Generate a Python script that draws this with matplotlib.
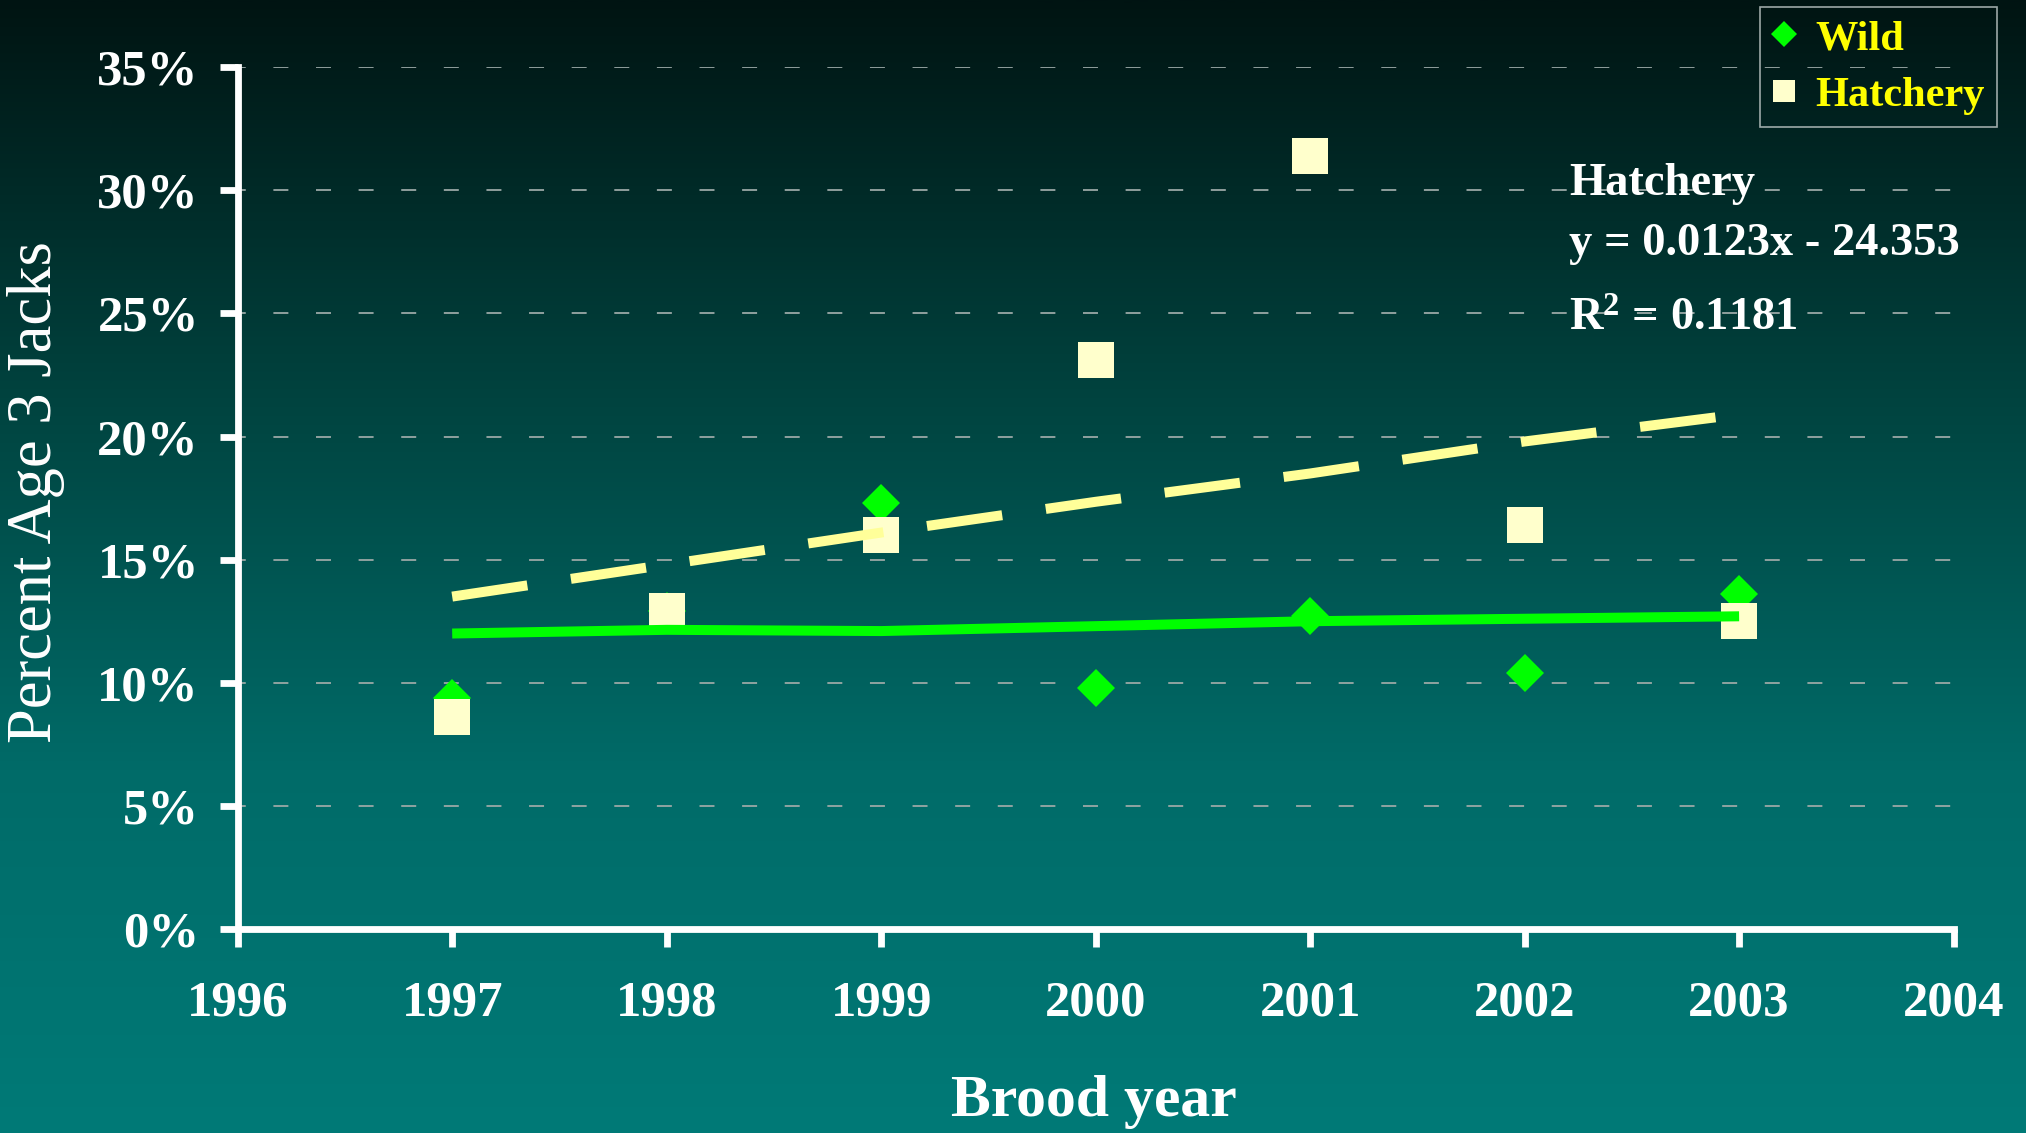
import numpy as np
import matplotlib
matplotlib.use("Agg")
import matplotlib.pyplot as plt
from matplotlib.lines import Line2D
from matplotlib.colors import LinearSegmentedColormap

# ----------------------- Data (percent age-3 jacks) -----------------------
years = [1997, 1998, 1999, 2000, 2001, 2002, 2003]
wild = [9.4, 12.9, 17.3, 9.8, 12.7, 10.4, 13.6]
hatchery = [8.6, 12.9, 16.0, 23.1, 31.4, 16.4, 12.5]

# linear trend values as plotted
wild_trend = [12.0, 12.15, 12.1, 12.3, 12.5, 12.6, 12.7]
hatchery_trend = [13.5, 14.8, 16.1, 17.35, 18.5, 19.8, 20.9]

x_ticks = [1996, 1997, 1998, 1999, 2000, 2001, 2002, 2003, 2004]
y_ticks = [0, 5, 10, 15, 20, 25, 30, 35]

eq_lines = ["Hatchery", "y = 0.0123x - 24.353", r"R$^{2}$ = 0.1181"]

# ----------------------- Style -----------------------
plt.rcParams["font.family"] = ["Liberation Serif", "DejaVu Serif"]
plt.rcParams["mathtext.fontset"] = "custom"
plt.rcParams["mathtext.rm"] = "Liberation Serif:bold"
plt.rcParams["mathtext.it"] = "Liberation Serif:bold"
plt.rcParams["mathtext.bf"] = "Liberation Serif:bold"

W, H = 2026, 1133
fig = plt.figure(figsize=(W / 100, H / 100), dpi=100)

# background gradient, dark at the top to teal at the bottom
bg = fig.add_axes([0, 0, 1, 1], zorder=0)
cmap = LinearSegmentedColormap.from_list(
    "bg", [(0.0, "#001412"), (0.35, "#00433f"), (0.68, "#006b68"), (1.0, "#007a77")])
grad = np.linspace(0, 1, 512).reshape(-1, 1)
bg.imshow(grad, cmap=cmap, aspect="auto", extent=[0, 1, 1, 0])
bg.set_axis_off()

# ----------------------- Main axes -----------------------
ax = fig.add_axes([237.7 / W, 1 - 929 / H, (1953.6 - 237.7) / W, (929 - 67.2) / H], zorder=1)
ax.set_facecolor("none")

ax.plot(years, wild, ls="none", marker="D", ms=19.8, mew=0, color="#00ff00", zorder=3)
ax.plot(years, hatchery, ls="none", marker="s", ms=25.6, mew=0, color="#ffffcc", zorder=4)
ax.plot(years, wild_trend, color="#00ff00", lw=7.2, solid_capstyle="butt", zorder=5)
ax.plot(years, hatchery_trend, color="#ffff99", lw=7.2, ls=(0, (7.6, 4.4)),
        dash_capstyle="butt", zorder=5)

ax.set_xlim(1996, 2004)
ax.set_ylim(0, 35)
ax.set_xticks(x_ticks)
ax.set_yticks(y_ticks)
ax.set_yticklabels([f"{v}%" for v in y_ticks])

ax.grid(axis="y", color="#9aa8a6", lw=1.3, ls=(4, (8.3, 15.3)), zorder=1)
ax.set_axisbelow(True)

for side in ["top", "right"]:
    ax.spines[side].set_visible(False)
for side in ["left", "bottom"]:
    ax.spines[side].set_color("white")
    ax.spines[side].set_linewidth(4.9)

ax.tick_params(axis="both", colors="white", width=4.9, length=13, direction="out")
ax.tick_params(axis="y", pad=15)
ax.tick_params(axis="x", pad=24)
for lab in ax.get_xticklabels() + ax.get_yticklabels():
    lab.set_fontsize(36.5)
    lab.set_fontweight("bold")
    lab.set_color("white")

# axis titles
fig.text(36 / W, 1 - 492 / H, "Percent Age 3 Jacks", rotation=90, ha="center", va="center",
         fontsize=45, color="white")
fig.text(1094 / W, 1 - 1116 / H, "Brood year", ha="center", va="baseline",
         fontsize=43, fontweight="bold", color="white")

# regression annotation
for txt, base in zip(eq_lines, [195, 255, 331]):
    fig.text(1569 / W, 1 - base / H, txt, ha="left", va="baseline", fontsize=33.5,
             fontweight="bold", color="white", zorder=6)

# legend
handles = [
    Line2D([], [], ls="none", marker="D", ms=13.2, mew=0, color="#00ff00"),
    Line2D([], [], ls="none", marker="s", ms=15.8, mew=0, color="#ffffcc"),
]
leg = ax.legend(handles, ["Wild", "Hatchery"], loc="upper right",
                bbox_to_anchor=(1997 / W, 1 - 6.7 / H), bbox_transform=fig.transFigure,
                borderaxespad=0, frameon=True, fancybox=False, borderpad=0.3,
                handlelength=0.55, handletextpad=0.45, labelspacing=0.42,
                prop={"family": "Liberation Serif", "weight": "bold", "size": 30.5})
leg.get_frame().set_facecolor("none")
leg.get_frame().set_edgecolor("#c4cccb")
leg.get_frame().set_linewidth(1.2)
for t in leg.get_texts():
    t.set_color("#ffff00")

fig.savefig("out.png", dpi=100)
